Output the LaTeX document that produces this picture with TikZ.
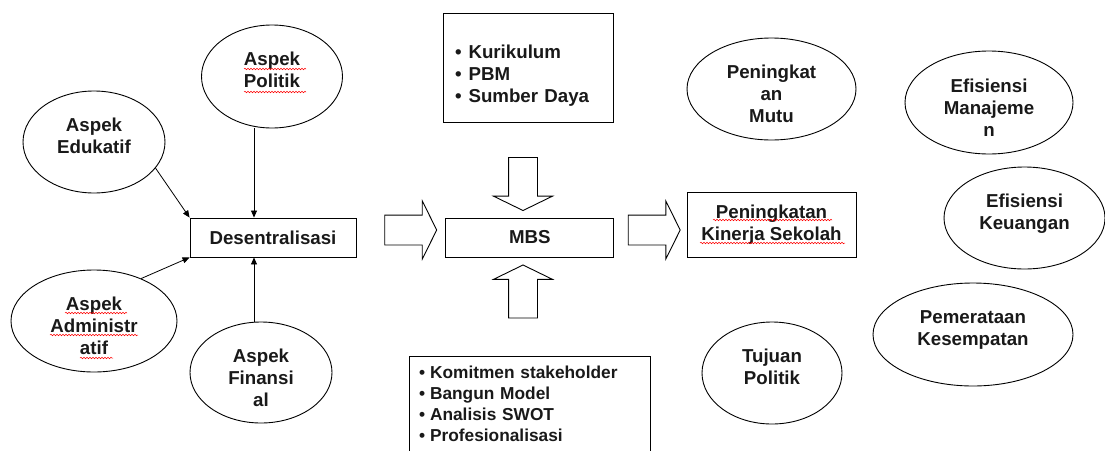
\documentclass[tikz,border=0pt]{standalone}
\usepackage{fontspec}
\setmainfont{Liberation Sans}
\usetikzlibrary{arrows.meta,positioning,shapes.geometric,shapes.arrows,decorations.pathmorphing}

\begin{document}
\begin{tikzpicture}
  [x=1pt,y=-1pt,
  every node/.style={font=\fontsize{18.7}{22}\selectfont\bfseries,text=black!90},
  bubble/.style={ellipse,draw,line width=0.9pt,inner sep=0pt,align=center},
  box/.style={rectangle,draw,line width=0.9pt,inner sep=0pt,align=center},
  hollow/.style={single arrow,draw,line width=0.9pt,inner xsep=0pt,inner ysep=14.5pt,minimum height=52pt,
    single arrow head extend=14pt,single arrow head indent=0pt,single arrow tip angle=127},
  vhollow/.style={hollow,inner xsep=14pt,inner ysep=0pt,minimum height=53pt,
    single arrow head extend=15pt,single arrow tip angle=128},
  link/.style={-{Triangle[length=7pt,width=6pt]},line width=0.8pt},
  typo/.style={red,line width=0.5pt,decorate,decoration={snake,amplitude=0.8pt,segment length=3pt}}
  ]
  \path[use as bounding box,clip] (0,0) rectangle (1105,450);

  % aspek
  \node[box,minimum width=166pt,minimum height=39pt] (desen) at (273,237.5) {Desentralisasi};
  \node[bubble,minimum width=141pt,minimum height=103pt] (politik) at (272,76.5) {Aspek\\Politik\\[-9pt]\mbox{}};
  \node[bubble,minimum width=142pt,minimum height=102pt] (eduk) at (94,142) {Aspek\\Edukatif\\[-9pt]\mbox{}};
  \node[bubble,minimum width=166pt,minimum height=102pt] (admin) at (94,321) {\mbox{}\\[2pt]Aspek\\Administr\\atif};
  \node[bubble,minimum width=142pt,minimum height=101pt] (finan) at (261,372.5) {\mbox{}\\[2pt]Aspek\\Finansi\\al};
  \draw[link] (eduk.-23) -- (desen.north west);
  \draw[link] (admin.42) -- (desen.south west);
  \coordinate (dtop) at ([xshift=-19pt]desen.north);
  \coordinate (dbot) at ([xshift=-19pt]desen.south);
  \draw[link] (dtop |- politik.south) -- (dtop);
  \draw[link] (dbot |- finan.north) -- (dbot);

  % mbs
  \node[box,minimum width=168pt,minimum height=39pt] (mbs) [right=89pt of desen] {MBS};
  \node[box,minimum width=170pt,minimum height=109pt,text width=146pt,align=left] (inputs) at (528,67.5)
    {\mbox{}\\[8pt]•\hspace{7pt}Kurikulum\\•\hspace{7pt}PBM\\•\hspace{7pt}Sumber Daya};
  \node[box,minimum width=241pt,minimum height=96pt,text width=221pt,align=left,
    font=\fontsize{17.3}{21}\selectfont\bfseries] (support) at (529.5,404)
    {•\hspace{5pt}Komitmen stakeholder\\•\hspace{5pt}Bangun Model\\•\hspace{5pt}Analisis SWOT\\•\hspace{5pt}Profesionalisasi};
  \node[hollow] (toMbs) at (407,230) {};
  \node[hollow] (toKinerja) at (650.5,230) {};
  \node[vhollow,shape border rotate=270] (fromTop) at (523,180.5) {};
  \node[vhollow,shape border rotate=90] (fromBot) at (523,295) {};

  % tujuan
  \node[box,minimum width=169pt,minimum height=65pt] (kinerja) at (771.5,224.5) {Peningkatan\\Kinerja Sekolah};
  \node[bubble,minimum width=169pt,minimum height=102pt] (mutu) at (771.5,89) {\mbox{}\\[2pt]Peningkat\\an\\Mutu};
  \node[bubble,minimum width=168pt,minimum height=103pt] (manaj) at (989,102.5) {\mbox{}\\[2pt]Efisiensi\\Manajeme\\n};
  \node[bubble,minimum width=161pt,minimum height=102pt] (keu) at (1024.5,218) {Efisiensi\\Keuangan\\[-9pt]\mbox{}};
  \node[bubble,minimum width=200pt,minimum height=103pt] (pemer) at (973,334.5) {Pemerataan\\Kesempatan\\[-9pt]\mbox{}};
  \node[bubble,minimum width=140pt,minimum height=102pt] (tujuan) at (772,373) {Tujuan\\Politik\\[-9pt]\mbox{}};

  % spelling marks
  \draw[typo] (244,69) -- (306,69);
  \draw[typo] (244,92) -- (306,92);
  \draw[typo] (65,313) -- (127,313);
  \draw[typo] (50,335) -- (138,335);
  \draw[typo] (80,358) -- (113,358);
  \draw[typo] (713,220) -- (832,220);
  \draw[typo] (700,243) -- (845,243);
\end{tikzpicture}
\end{document}
